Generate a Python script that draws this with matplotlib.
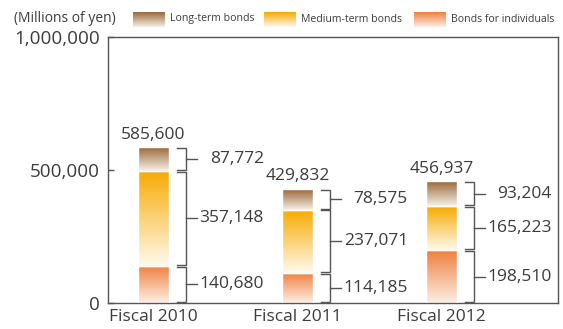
import matplotlib
matplotlib.use("Agg")
import matplotlib.pyplot as plt
import numpy as np
from matplotlib.colors import to_rgb

plt.rcParams['font.family'] = ['Open Sans', 'DejaVu Sans']

# data
years = ['Fiscal 2010', 'Fiscal 2011', 'Fiscal 2012']
individuals = [140680, 114185, 198510]
medium = [357148, 237071, 165223]
long_term = [87772, 78575, 93204]
totals = [585600, 429832, 456937]

series_names = ['Bonds for individuals', 'Medium-term bonds', 'Long-term bonds']
top_colors = ['#ef7f3c', '#f7aa00', '#9a6838']
bot_colors = ['#fdefe6', '#fffaee', '#f6f0e8']

txt = '#3c3c3c'
W, H = 563, 329
fig = plt.figure(figsize=(W / 100, H / 100), dpi=100)
ax = fig.add_axes([108 / W, 1 - 303 / H, 450 / W, 266 / H])

px = 1 / 144.0  # data units per pixel along x
bar_w = 31 * px


def grad(c_top, c_bot, n=200):
    a = np.array(to_rgb(c_top))
    b = np.array(to_rgb(c_bot))
    t = np.linspace(0, 1, n)[:, None]
    return (a * (1 - t) + b * t)[:, None, :]


x = np.arange(len(years))
stack = [individuals, medium, long_term]
bottoms = np.zeros(len(years))
for k, vals in enumerate(stack):
    bars = ax.bar(x, vals, bar_w, bottom=bottoms, facecolor='none',
                  edgecolor='white', linewidth=1.0, zorder=3)
    for i, b in enumerate(bars):
        im = ax.imshow(grad(top_colors[k], bot_colors[k]), aspect='auto',
                       extent=(x[i] - bar_w / 2, x[i] + bar_w / 2,
                               bottoms[i], bottoms[i] + vals[i]),
                       zorder=2, interpolation='bilinear')
        im.set_clip_path(b)
        # bracket
        y0 = bottoms[i] + 3500
        y1 = bottoms[i] + vals[i] - 3500
        xr = x[i] + bar_w / 2
        xa, xv, xt = xr + 8 * px, xr + 17 * px, xr + 28 * px
        ax.plot([xa, xv, xv, xa], [y0, y0, y1, y1], color='#555555', lw=1.0,
                zorder=4, solid_joinstyle='miter')
        ym = bottoms[i] + vals[i] / 2
        ax.plot([xv, xt], [ym, ym], color='#555555', lw=1.0, zorder=4)
        ax.text(xr + 95 * px, ym, f'{vals[i]:,}', ha='right', va='center',
                fontsize=12.5, color=txt)
    bottoms = bottoms + np.array(vals)

for i, t in enumerate(totals):
    ax.text(x[i], t + 16000, f'{t:,}', ha='center', va='bottom',
            fontsize=12.5, color=txt)

ax.set_xlim(-45.5 * px, 404.5 * px)
ax.set_ylim(0, 1000000)
ax.set_yticks([0, 500000, 1000000])
ax.set_yticklabels(['0', '500,000', '1,000,000'], fontsize=13.6, color=txt)
ax.set_xticks(x)
ax.set_xticklabels(years, fontsize=12.5, color=txt)
ax.tick_params(axis='y', direction='in', length=4, width=1, color='#555555', pad=6)
ax.tick_params(axis='x', length=0, pad=4)
for s in ax.spines.values():
    s.set_color('#555555')
    s.set_linewidth(1.0)

# legend
fig.text(14 / W, 1 - 19 / H, '(Millions of yen)', fontsize=10, color=txt,
         ha='left', va='center')
leg = [(133, 'Long-term bonds', 2), (264, 'Medium-term bonds', 1),
       (414, 'Bonds for individuals', 0)]
for lx, name, k in leg:
    lax = fig.add_axes([lx / W, 1 - 27 / H, 32 / W, 15 / H])
    lax.imshow(grad(top_colors[k], bot_colors[k]), aspect='auto',
               interpolation='bilinear')
    lax.axis('off')
    fig.text((lx + 37) / W, 1 - 19 / H, name, fontsize=7.6, color=txt,
             ha='left', va='center')

fig.savefig('out.png', dpi=100)
